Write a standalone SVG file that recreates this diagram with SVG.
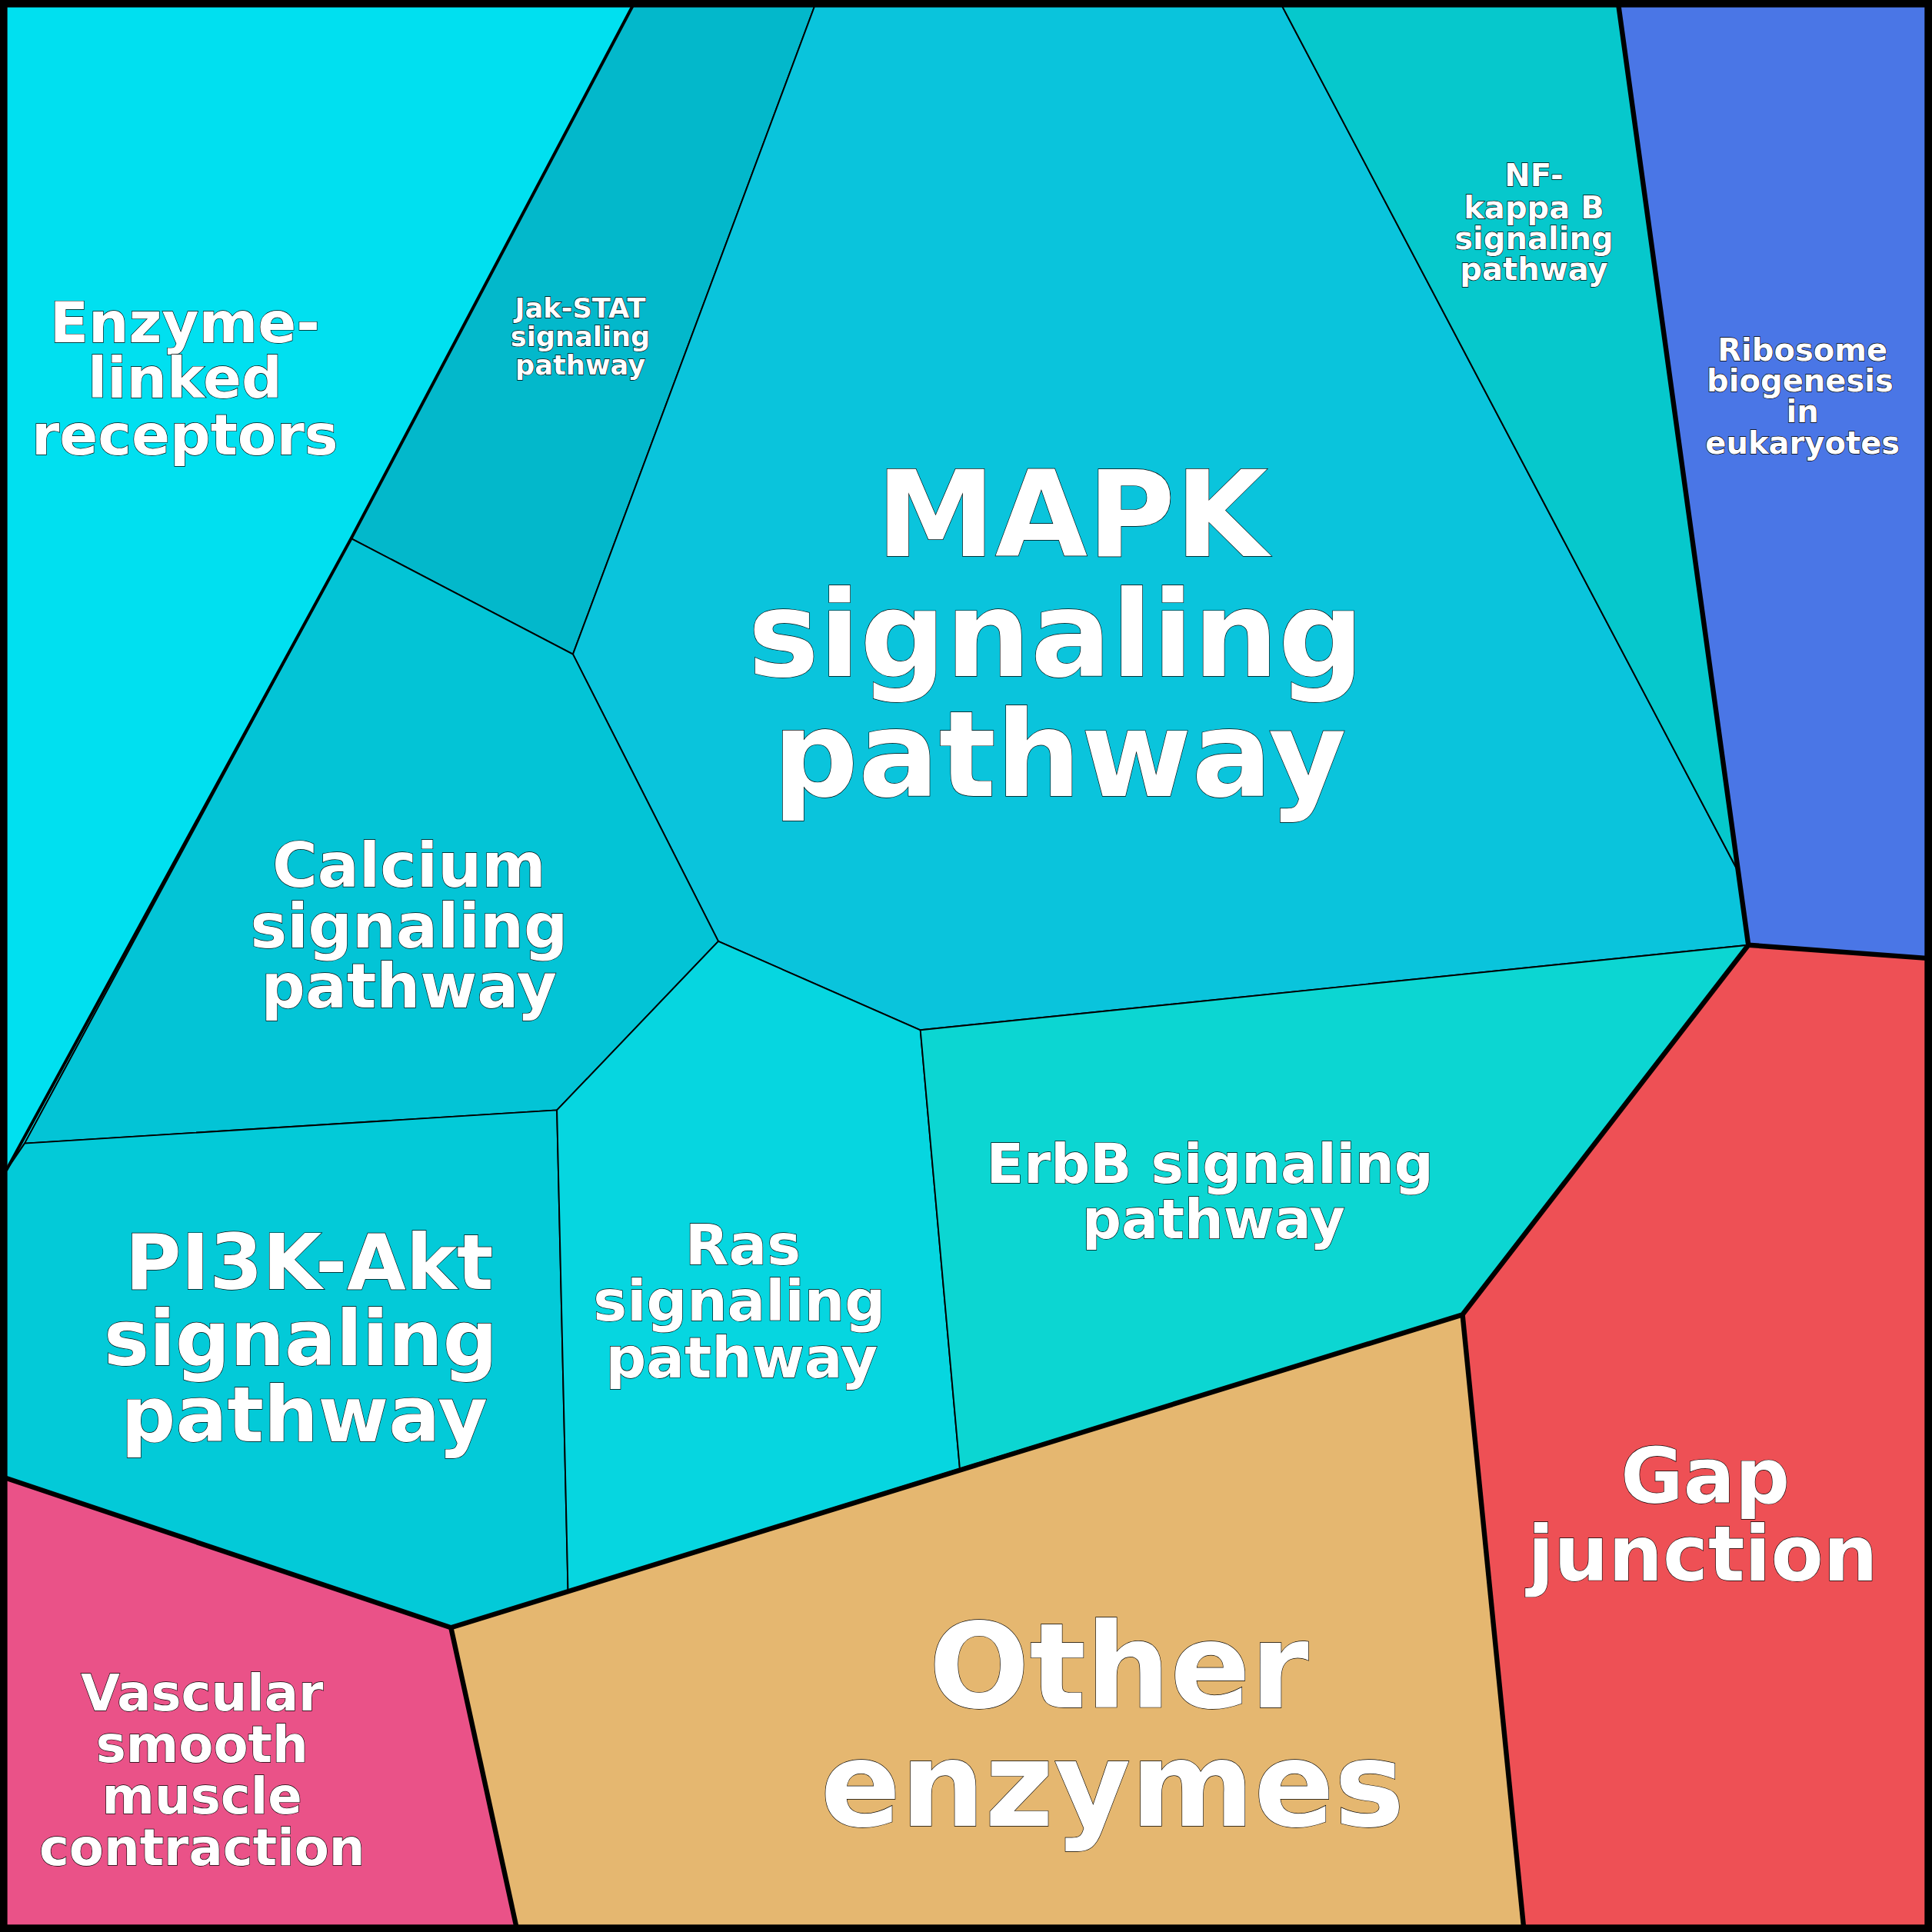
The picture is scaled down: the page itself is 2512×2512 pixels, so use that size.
<svg xmlns="http://www.w3.org/2000/svg" width="2512" height="2512" viewBox="0 0 2512 2512">
<style>
.c{stroke:#000;stroke-width:1.2;stroke-linejoin:round}
.t{font-family:"DejaVu Sans",sans-serif;font-weight:bold;fill:#fff;stroke:#000;stroke-width:0.8;paint-order:stroke fill;text-anchor:middle}
.thick{fill:none;stroke:#000;stroke-width:4;stroke-linejoin:round}
</style>
<g transform="scale(1.602)">
<g id="enzyme-linked"><polygon class="c" fill="#00E0F0" points="0,0 516,0 285,437 20,928 5,950 0,950"/>
<text class="t" font-size="46"><tspan x="150" y="278">Enzyme-</tspan><tspan x="150" y="323">linked</tspan><tspan x="150" y="369">receptors</tspan></text></g>
<g id="jak-stat"><polygon class="c" fill="#03B8CB" points="516,0 663,0 465,531 285,437"/>
<text class="t" font-size="22"><tspan x="471" y="258">Jak-STAT</tspan><tspan x="471" y="281">signaling</tspan><tspan x="471" y="304">pathway</tspan></text></g>
<g id="mapk"><polygon class="c" fill="#0AC4DC" points="663,0 1038,0 1410,706 1419,767 747,836 583,764 465,531"/>
<text class="t" font-size="97" stroke-width="1.2"><tspan x="870" y="451">MAPK</tspan><tspan x="857" y="549">signaling</tspan><tspan x="860" y="646">pathway</tspan></text></g>
<g id="nfkb"><polygon class="c" fill="#06C8CC" points="1038,0 1313,0 1410,706"/>
<text class="t" font-size="25"><tspan x="1245" y="151">NF-</tspan><tspan x="1245" y="177">kappa B</tspan><tspan x="1245" y="202">signaling</tspan><tspan x="1245" y="227">pathway</tspan></text></g>
<g id="ribosome"><polygon class="c" fill="#4A76E6" points="1313,0 1568,0 1568,778 1419,767"/>
<text class="t" font-size="25"><tspan x="1463" y="293">Ribosome</tspan><tspan x="1461" y="318">biogenesis</tspan><tspan x="1463" y="343">in</tspan><tspan x="1463" y="368">eukaryotes</tspan></text></g>
<g id="calcium"><polygon class="c" fill="#03C4D6" points="285,437 465,531 583,764 452,901 20,928"/>
<text class="t" font-size="50"><tspan x="332" y="720">Calcium</tspan><tspan x="332" y="769">signaling</tspan><tspan x="332" y="818">pathway</tspan></text></g>
<g id="pi3k"><polygon class="c" fill="#03CAD8" points="20,928 452,901 461,1291 366,1321 0,1198 0,950 5,950"/>
<text class="t" font-size="62"><tspan x="251" y="1046">PI3K-Akt</tspan><tspan x="244" y="1108">signaling</tspan><tspan x="247" y="1170">pathway</tspan></text></g>
<g id="ras"><polygon class="c" fill="#06D6E0" points="452,901 583,764 747,836 779,1192 461,1291"/>
<text class="t" font-size="46"><tspan x="603" y="1026">Ras</tspan><tspan x="600" y="1072">signaling</tspan><tspan x="602" y="1118">pathway</tspan></text></g>
<g id="erbb"><polygon class="c" fill="#0CD6D2" points="747,836 1419,767 1187,1067 779,1192"/>
<text class="t" font-size="44.5"><tspan x="982" y="960">ErbB signaling</tspan><tspan x="985" y="1005">pathway</tspan></text></g>
<g id="gap"><polygon class="c" fill="#EE5055" points="1419,767 1568,778 1568,1568 1237,1568 1187,1067"/>
<text class="t" font-size="62"><tspan x="1384" y="1220">Gap</tspan><tspan x="1382" y="1283">junction</tspan></text></g>
<g id="other"><polygon class="c" fill="#E5B770" points="366,1321 1187,1067 1237,1568 420,1568"/>
<text class="t" font-size="96" stroke-width="1.2"><tspan x="908" y="1386">Other</tspan><tspan x="903" y="1482">enzymes</tspan></text></g>
<g id="vascular"><polygon class="c" fill="#EA5288" points="0,1198 366,1321 420,1568 0,1568"/>
<text class="t" font-size="41"><tspan x="164" y="1388">Vascular</tspan><tspan x="164" y="1430">smooth</tspan><tspan x="164" y="1472">muscle</tspan><tspan x="164" y="1514">contraction</tspan></text></g>
<g id="connectors">
<path class="thick" d="M1313,0 L1419,767 L1187,1067 L366,1321 L0,1198"/>
<path class="thick" d="M1419,767 L1568,778"/>
<path class="thick" d="M1187,1067 L1237,1568"/>
<path class="thick" d="M366,1321 L420,1568"/>
<path fill="none" stroke="#000" stroke-width="2.5" d="M516,0 L285,437 L5,950"/>
<rect x="3" y="3" width="1562" height="1562" fill="none" stroke="#000" stroke-width="6"/>
</g>
</g>
</svg>
